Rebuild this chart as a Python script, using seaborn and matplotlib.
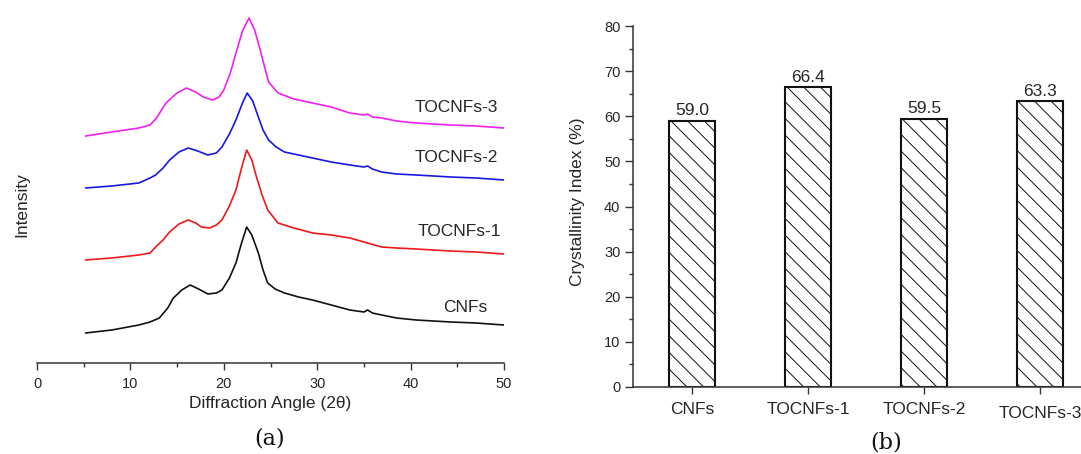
import matplotlib
matplotlib.use("Agg")
import matplotlib.pyplot as plt
from matplotlib.ticker import MultipleLocator
import seaborn as sns
import pandas as pd

# ---------------- data ----------------
angle_cnf = [5.2, 8.0, 10.9, 12.1, 13.1, 14.0, 14.6, 15.5, 16.4, 17.3, 18.3, 19.2, 19.8, 20.6, 21.3, 21.9, 22.45, 23.0, 23.7, 24.2, 24.7, 25.5, 26.5, 28.0, 29.5, 31.5, 33.5, 35.0, 35.4, 35.9, 36.9, 38.5, 40.6, 44.3, 47.0, 50.0]
int_cnf =   [30, 33, 38, 41, 45, 55, 65, 73, 78, 74, 69, 70, 73, 85, 100, 120, 136, 128, 110, 93, 80, 74, 70, 66, 63, 58, 53, 51, 53, 50, 48, 45, 43, 41, 40, 38]

angle_t1 = [5.2, 8.0, 10.9, 12.1, 12.7, 13.5, 14.2, 15.2, 16.2, 17.0, 17.6, 18.5, 19.2, 19.8, 20.6, 21.3, 21.9, 22.45, 23.0, 23.5, 24.1, 24.7, 25.8, 27.5, 29.5, 31.5, 33.5, 35.0, 36.9, 38.5, 40.6, 44.3, 47.0, 50.0]
int_t1 =   [103, 105, 108, 110, 116, 123, 131, 139, 143, 140, 136, 135, 138, 143, 157, 173, 195, 213, 203, 186, 168, 153, 140, 135, 130, 128, 125, 121, 116, 115, 114, 112, 111, 109]

angle_t2 = [5.2, 8.0, 10.9, 12.1, 12.7, 13.5, 14.2, 15.2, 16.2, 17.2, 18.3, 19.2, 19.8, 20.6, 21.3, 22.0, 22.5, 23.1, 23.7, 24.2, 24.8, 25.6, 26.5, 28.0, 29.5, 31.5, 33.5, 35.0, 35.4, 35.9, 36.9, 38.5, 40.6, 44.3, 47.0, 50.0]
int_t2 =   [175, 177, 180, 185, 188, 195, 203, 211, 215, 212, 208, 210, 216, 229, 243, 260, 270, 262, 246, 233, 223, 216, 211, 208, 205, 201, 198, 196, 197, 194, 191, 189, 188, 186, 185, 183]

angle_t3 = [5.2, 8.0, 10.9, 12.1, 12.8, 13.8, 15.0, 16.0, 17.0, 17.8, 18.8, 19.5, 20.0, 20.7, 21.3, 22.0, 22.7, 23.3, 23.9, 24.4, 24.8, 25.8, 27.5, 29.5, 31.5, 33.5, 35.0, 35.4, 35.9, 36.9, 38.5, 40.6, 44.3, 47.0, 50.0]
int_t3 =   [227, 231, 235, 238, 245, 260, 270, 275, 271, 266, 263, 266, 273, 290, 310, 332, 345, 333, 313, 295, 281, 270, 264, 260, 256, 250, 248, 249, 246, 245, 242, 240, 238, 237, 235]

series_names = ["CNFs", "TOCNFs-1", "TOCNFs-2", "TOCNFs-3"]
series_colors = ["#111111", "#f01818", "#1818e0", "#f020f0"]
label_x = [45.8, 45.2, 44.9, 44.9]
label_y = [56, 131, 205, 256]

cryst_samples = ["CNFs", "TOCNFs-1", "TOCNFs-2", "TOCNFs-3"]
cryst_index = [59.0, 66.4, 59.5, 63.3]
cryst_labels = ["59.0", "66.4", "59.5", "63.3"]

# ---------------- styling ----------------
sns.set_style("ticks")
plt.rcParams["font.family"] = ["Liberation Sans", "DejaVu Sans"]
plt.rcParams["hatch.linewidth"] = 0.7
plt.rcParams["hatch.color"] = "#333333"
txt = "#262626"

W, H = 1081, 454
fig = plt.figure(figsize=(W / 100, H / 100), dpi=100)

def ax_rect(l, r, b, t):
    return [l / W, 1 - b / H, (r - l) / W, (b - t) / H]

# ---------------- panel (a) ----------------
axa = fig.add_axes(ax_rect(37, 504, 363, 10))
frames = []
for name, xs, ys in zip(series_names,
                        [angle_cnf, angle_t1, angle_t2, angle_t3],
                        [int_cnf, int_t1, int_t2, int_t3]):
    frames.append(pd.DataFrame({"angle": xs, "intensity": ys, "sample": name}))
df = pd.concat(frames, ignore_index=True)
sns.lineplot(data=df, x="angle", y="intensity", hue="sample",
             palette=dict(zip(series_names, series_colors)), linewidth=1.2,
             legend=False, ax=axa, sort=False, estimator=None)
axa.set_xlim(0, 50)
axa.set_ylim(0, 353)
for s in ["top", "right", "left"]:
    axa.spines[s].set_visible(False)
axa.spines["bottom"].set_color("#333333")
axa.spines["bottom"].set_linewidth(1.1)
axa.set_yticks([])
axa.xaxis.set_major_locator(MultipleLocator(10))
axa.xaxis.set_minor_locator(MultipleLocator(5))
axa.tick_params(axis="x", which="major", length=5, width=1.0, pad=5,
                labelsize=10.5, colors="#333333", labelcolor=txt)
axa.tick_params(axis="x", which="minor", length=3, width=1.0, colors="#333333")
axa.set_xlabel("Diffraction Angle (2θ)", fontsize=12.5, color=txt)
axa.xaxis.set_label_coords(0.5, -0.093)
axa.set_ylabel("Intensity", fontsize=12.5, color=txt)
axa.yaxis.set_label_coords(-0.017, 0.448)
for name, lx, ly in zip(series_names, label_x, label_y):
    axa.text(lx, ly, name, fontsize=12.5, color=txt, ha="center", va="center")

# ---------------- panel (b) ----------------
axb = fig.add_axes(ax_rect(633, 1081, 387, 26))
dfb = pd.DataFrame({"sample": cryst_samples, "ci": cryst_index})
sns.barplot(data=dfb, x="sample", y="ci", order=cryst_samples, color="white",
            edgecolor="#111111", linewidth=1.5, width=0.4, ax=axb,
            errorbar=None)
for p in axb.patches:
    p.set_hatch("\\\\")
    p.set_facecolor("white")
for p, lab in zip(axb.patches, cryst_labels):
    axb.annotate(lab, (p.get_x() + p.get_width() / 2, p.get_height()),
                 xytext=(0, 2), textcoords="offset points",
                 ha="center", va="bottom", fontsize=12.5, color=txt)
axb.set_xlim(-0.509, 3.353)
axb.set_ylim(0, 80)
axb.spines["top"].set_visible(False)
axb.spines["right"].set_visible(False)
for s in ["left", "bottom"]:
    axb.spines[s].set_color("#333333")
    axb.spines[s].set_linewidth(1.1)
axb.yaxis.set_major_locator(MultipleLocator(10))
axb.yaxis.set_minor_locator(MultipleLocator(5))
axb.tick_params(axis="y", which="major", length=6, width=1.0, pad=3,
                labelsize=10.5, colors="#333333", labelcolor=txt)
axb.tick_params(axis="y", which="minor", length=3, width=1.0, colors="#333333")
axb.tick_params(axis="x", which="major", length=5, width=1.0, pad=6,
                labelsize=12.5, colors="#333333", labelcolor=txt)
axb.set_xlabel("")
axb.set_ylabel("Crystallinity Index (%)", fontsize=12.5, color=txt)
axb.yaxis.set_label_coords(-0.107, 0.512)
ticks_b = axb.xaxis.get_major_ticks()
ticks_b[3].set_pad(8.5)

# ---------------- panel letters ----------------
fig.text(270 / W, 1 - 438 / H, "(a)", fontsize=16, family="DejaVu Serif",
         ha="center", va="center", color="#111111")
fig.text(886 / W, 1 - 443 / H, "(b)", fontsize=16, family="DejaVu Serif",
         ha="center", va="center", color="#111111")

fig.savefig("out.png", dpi=100)
